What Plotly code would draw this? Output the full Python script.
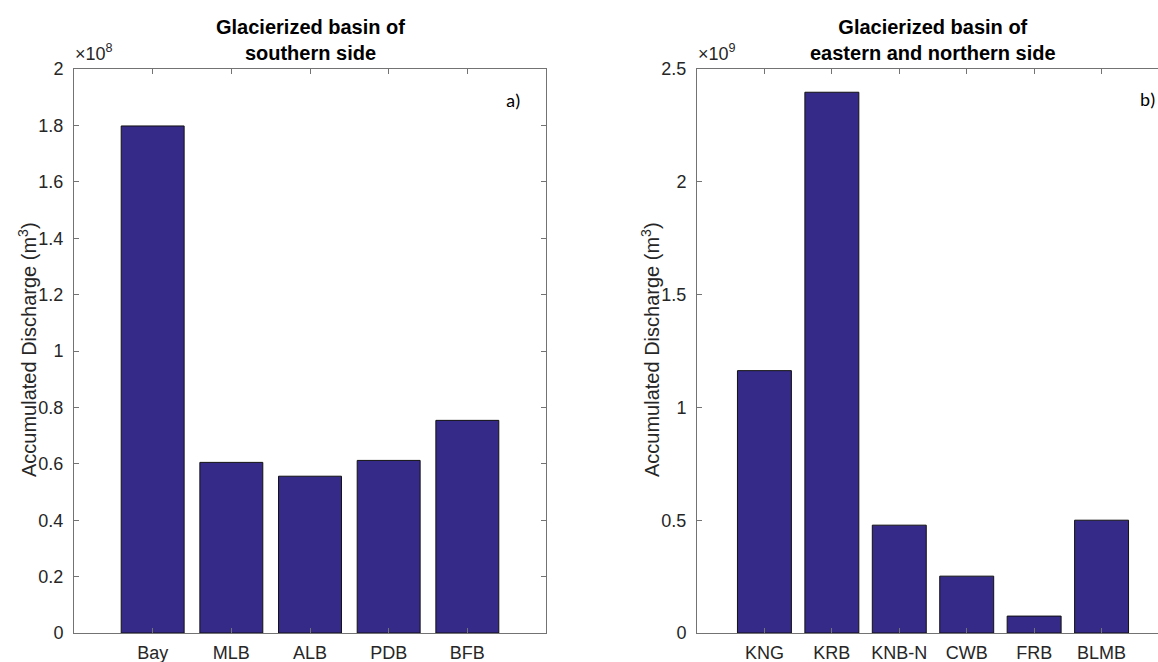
import plotly.graph_objects as go

# Accumulated discharge per glacierized basin (m^3)
south_basins = ["Bay", "MLB", "ALB", "PDB", "BFB"]
south_discharge = [1.798e8, 0.605e8, 0.556e8, 0.612e8, 0.754e8]

north_basins = ["KNG", "KRB", "KNB-N", "CWB", "FRB", "BLMB"]
north_discharge = [1.163e9, 2.397e9, 0.478e9, 0.252e9, 0.075e9, 0.500e9]

south_ticks = [0, 0.2, 0.4, 0.6, 0.8, 1.0, 1.2, 1.4, 1.6, 1.8, 2.0]
north_ticks = [0, 0.5, 1.0, 1.5, 2.0, 2.5]

W, H = 1158, 662
TOP, BOTTOM = 69, 633
BAR = "#352A87"
AX = "#737373"
TXT = "#262626"
FONT = "Arial, Liberation Sans, sans-serif"


def fmt(v):
    return f"{v:g}"


def py(p):
    """pixel row -> paper y"""
    return (BOTTOM - p) / (BOTTOM - TOP)


def px(p):
    return p / W


fig = go.Figure()
fig.add_trace(go.Bar(x=south_basins, y=south_discharge, width=0.8,
                     marker=dict(color=BAR, line=dict(color="#111111", width=1)),
                     xaxis="x", yaxis="y", showlegend=False))
fig.add_trace(go.Bar(x=north_basins, y=north_discharge, width=0.8,
                     marker=dict(color=BAR, line=dict(color="#111111", width=1)),
                     xaxis="x2", yaxis="y2", showlegend=False))

tick_font = dict(family=FONT, size=18, color=TXT)
common_x = dict(type="category", showline=True, linecolor=AX, linewidth=1,
                ticks="inside", ticklen=5, tickcolor=AX, showgrid=False,
                zeroline=False, tickfont=tick_font, ticklabelstandoff=3)
common_y = dict(showline=True, linecolor=AX, linewidth=1, ticks="inside",
                ticklen=5, tickcolor=AX, showgrid=False, zeroline=False,
                tickfont=tick_font, ticklabelstandoff=6)

# both panels share the same pixel width; the right one runs to the page edge
left_x0, left_x1 = 74, 546
right_x0 = 697
panel_w = left_x1 - left_x0
right_span = 7.0 * (W - right_x0) / panel_w

fig.update_layout(
    width=W, height=H,
    margin=dict(l=0, r=0, t=TOP, b=H - BOTTOM),
    paper_bgcolor="white", plot_bgcolor="white",
    xaxis=dict(**common_x, domain=[px(left_x0), px(left_x1)], range=[-1, 5],
               mirror="ticks", anchor="y"),
    yaxis=dict(**common_y, domain=[0, 1], range=[0, 2.0e8], mirror="ticks",
               tickvals=[t * 1e8 for t in south_ticks],
               ticktext=[fmt(t) for t in south_ticks], anchor="x"),
    xaxis2=dict(**common_x, domain=[px(right_x0), 1.0], range=[-1, -1 + right_span],
                mirror="ticks", anchor="y2"),
    yaxis2=dict(**common_y, domain=[0, 1], range=[0, 2.5e9], mirror=False,
                tickvals=[t * 1e9 for t in north_ticks],
                ticktext=[fmt(t) for t in north_ticks], anchor="x2"),
)

ann = []
title_font = dict(family=FONT, size=20, color="#000000")
ann.append(dict(text="<b>Glacierized basin of</b><br><b>southern side</b>",
                x=px((left_x0 + left_x1) / 2), y=py(40), xref="paper", yref="paper",
                showarrow=False, font=title_font, xanchor="center", yanchor="middle"))
ann.append(dict(text="<b>Glacierized basin of</b><br><b>eastern and northern side</b>",
                x=px(933), y=py(40), xref="paper", yref="paper",
                showarrow=False, font=title_font, xanchor="center", yanchor="middle"))
ylab_font = dict(family=FONT, size=20, color=TXT)
ann.append(dict(text="Accumulated Discharge (m<sup>3</sup>)", textangle=-90,
                x=px(27), y=py(350), xref="paper", yref="paper", showarrow=False,
                font=ylab_font, xanchor="center", yanchor="middle"))
ann.append(dict(text="Accumulated Discharge (m<sup>3</sup>)", textangle=-90,
                x=px(650), y=py(350), xref="paper", yref="paper", showarrow=False,
                font=ylab_font, xanchor="center", yanchor="middle"))
exp_font = dict(family=FONT, size=18, color=TXT)
ann.append(dict(text="×10<sup>8</sup>", x=px(73), y=py(66), xref="paper", yref="paper",
                showarrow=False, font=exp_font, xanchor="left", yanchor="bottom"))
ann.append(dict(text="×10<sup>9</sup>", x=px(696), y=py(66), xref="paper", yref="paper",
                showarrow=False, font=exp_font, xanchor="left", yanchor="bottom"))
panel_font = dict(family="Calibri, Carlito, Open Sans, sans-serif", size=19, color="#000000")
ann.append(dict(text="a)", x=px(504), y=py(100), xref="paper", yref="paper",
                showarrow=False, font=panel_font, xanchor="left", yanchor="middle"))
ann.append(dict(text="b)", x=px(1138), y=py(99), xref="paper", yref="paper",
                showarrow=False, font=panel_font, xanchor="left", yanchor="middle"))
fig.update_layout(annotations=ann)

fig.write_html("out.html")
